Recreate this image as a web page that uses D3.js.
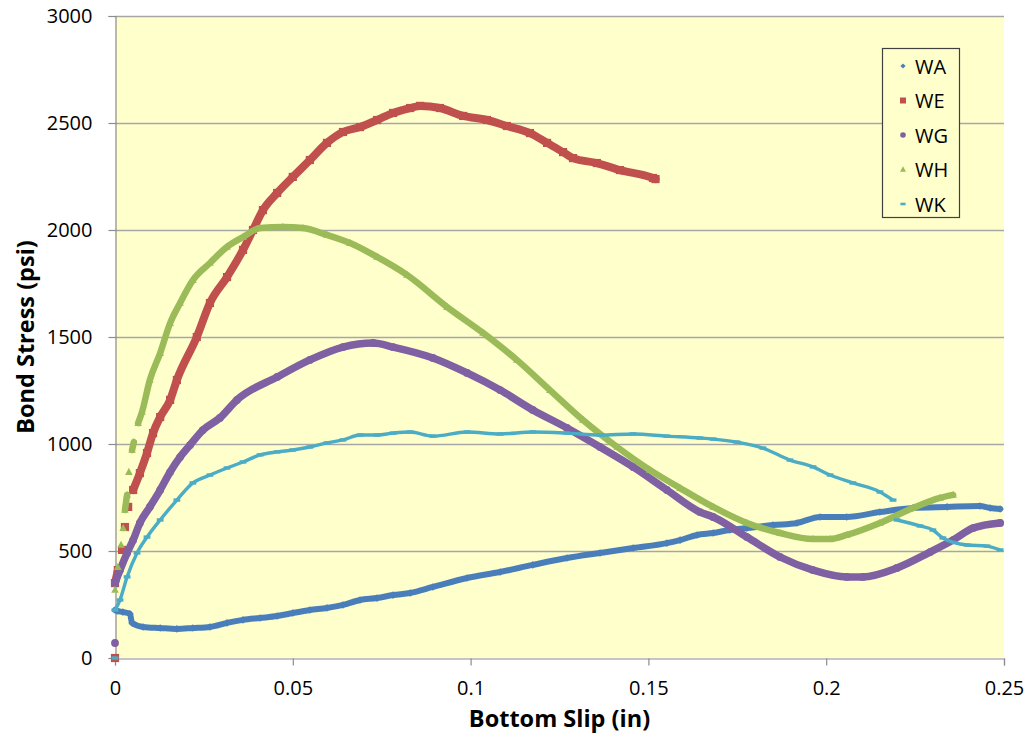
<!DOCTYPE html>
<html>
<head>
<meta charset="utf-8">
<script src="https://cdn.jsdelivr.net/npm/d3@7"></script>
<style>
  html, body { margin: 0; padding: 0; background: #ffffff; }
  svg { display: block; }
  text { font-family: "Open Sans", "Liberation Sans", sans-serif; fill: #000; }
</style>
</head>
<body>
<svg id="chart" width="1028" height="744"></svg>
<script>
// Bond stress (psi) against bottom slip (in) for five specimens
const seriesNames = ["WA", "WE", "WG", "WH", "WK"];
const xTicks = [0, 0.05, 0.1, 0.15, 0.2, 0.25];
const xTickLabels = ["0", "0.05", "0.1", "0.15", "0.2", "0.25"];
const yTicks = [0, 500, 1000, 1500, 2000, 2500, 3000];
const yTickLabels = ["0", "500", "1000", "1500", "2000", "2500", "3000"];

const WA = [
  [0, 224], [0.0006, 220], [0.0022, 215], [0.0042, 206], [0.0048, 164], [0.0079, 145],
  [0.0127, 140], [0.0174, 136], [0.0219, 140], [0.0267, 145], [0.0315, 164], [0.036, 178],
  [0.0408, 187], [0.0456, 196], [0.05, 210], [0.0548, 224], [0.0596, 234], [0.0641, 248],
  [0.0689, 271], [0.0737, 280], [0.0782, 294], [0.083, 304], [0.0894, 332], [0.099, 374],
  [0.1083, 402], [0.1175, 435], [0.1271, 467], [0.1364, 491], [0.1457, 514], [0.1552, 537],
  [0.1589, 551], [0.1637, 575], [0.1682, 584], [0.1729, 598], [0.1777, 607], [0.185, 621],
  [0.1918, 631], [0.1983, 659], [0.2058, 659], [0.2151, 682], [0.2244, 701], [0.234, 706],
  [0.2432, 710], [0.2461, 701], [0.2489, 696]
];

const WE = [
  [0, 0], [0, 350], [0.0008, 411], [0.002, 505], [0.0028, 612], [0.0037, 706], [0.0051, 785],
  [0.007, 864], [0.009, 958], [0.0107, 1051], [0.0127, 1126], [0.0155, 1206], [0.0174, 1299],
  [0.023, 1500], [0.0267, 1659], [0.0315, 1780], [0.036, 1907], [0.0388, 2000], [0.0416, 2093],
  [0.0456, 2173], [0.05, 2248], [0.0548, 2327], [0.0596, 2407], [0.0641, 2458], [0.0689, 2481],
  [0.0737, 2514], [0.0782, 2547], [0.083, 2570], [0.0858, 2580], [0.0914, 2570], [0.0979, 2533],
  [0.1046, 2514], [0.1102, 2486], [0.1167, 2453], [0.1215, 2407], [0.126, 2364], [0.1288, 2336],
  [0.1355, 2313], [0.142, 2280], [0.1513, 2243], [0.152, 2238]
];

const WG = [
  [0, 70], [0, 350], [0.0014, 411], [0.0034, 491], [0.0051, 551], [0.007, 631], [0.0098, 706],
  [0.0127, 785], [0.0155, 869], [0.0183, 939], [0.0211, 995], [0.0247, 1065], [0.0295, 1122],
  [0.0343, 1206], [0.0456, 1313], [0.0548, 1393], [0.0641, 1453], [0.0726, 1472], [0.0782, 1453],
  [0.0894, 1402], [0.099, 1332], [0.1083, 1252], [0.1175, 1159], [0.1271, 1075], [0.1364, 986],
  [0.1457, 893], [0.1552, 785], [0.1645, 682], [0.1682, 659], [0.1777, 565], [0.187, 472],
  [0.1963, 411], [0.2058, 379], [0.2103, 379], [0.2199, 421], [0.2292, 495], [0.2357, 551],
  [0.2413, 607], [0.2489, 631]
];

const WH = [
  [0, 318], [0.0008, 425], [0.0017, 528], [0.0023, 607], [0.0028, 692], [0.0034, 762],
  [0.0039, 869], [0.0048, 972], [0.0053, 1009], [0.0065, 1098], [0.0076, 1150], [0.0098, 1299],
  [0.0127, 1425], [0.0155, 1565], [0.0183, 1659], [0.0219, 1766], [0.0267, 1846], [0.0315, 1921],
  [0.036, 1967], [0.0408, 2009], [0.0472, 2014], [0.0529, 2009], [0.0596, 1977], [0.0661, 1939],
  [0.0737, 1874], [0.0821, 1790], [0.0934, 1640], [0.1035, 1519], [0.113, 1393], [0.1223, 1252],
  [0.1316, 1112], [0.1412, 986], [0.1504, 879], [0.1589, 794], [0.1682, 706], [0.1777, 631],
  [0.187, 584], [0.1963, 556], [0.2011, 556], [0.2058, 575], [0.2151, 631], [0.2244, 701],
  [0.232, 748], [0.2357, 762]
];

const WK = [
  [0, 0], [0, 224], [0.0014, 271], [0.0034, 379], [0.0062, 491], [0.009, 565], [0.0127, 645],
  [0.0174, 738], [0.0219, 818], [0.0267, 855], [0.0315, 888], [0.036, 916], [0.0408, 949],
  [0.0456, 963], [0.05, 972], [0.0548, 986], [0.0596, 1005], [0.0641, 1019], [0.0689, 1042],
  [0.0737, 1042], [0.0782, 1051], [0.083, 1056], [0.0894, 1037], [0.099, 1056], [0.1083, 1047],
  [0.1175, 1056], [0.1271, 1051], [0.1364, 1042], [0.1457, 1047], [0.1552, 1037], [0.1645, 1028],
  [0.1682, 1023], [0.1749, 1009], [0.1822, 981], [0.1898, 925], [0.1963, 893], [0.2011, 855],
  [0.2075, 818], [0.2151, 776], [0.2188, 738], [0.2199, 645], [0.2264, 617], [0.23, 598],
  [0.2328, 561], [0.2396, 528], [0.2452, 523], [0.2489, 505]
];

const seriesData = [WA, WE, WG, WH, WK];
const seriesColors = ["#4a7ebb", "#c0504d", "#7f60a2", "#9bbb59", "#4bacc6"];
const markerTypes = ["diamond", "square", "circle", "triangle", "dash"];

const svg = d3.select("#chart");
const plot = { left: 115, top: 16, right: 1004, bottom: 658 };

const x = d3.scaleLinear().domain([0, 0.25]).range([plot.left, plot.right]);
const y = d3.scaleLinear().domain([0, 3000]).range([plot.bottom, plot.top]);

// plot area fill
svg.append("rect")
  .attr("x", plot.left).attr("y", plot.top)
  .attr("width", plot.right - plot.left).attr("height", plot.bottom - plot.top)
  .attr("fill", "#ffffcc");

// horizontal gridlines
svg.append("g")
  .selectAll("line")
  .data(yTicks.filter(d => d > 0))
  .join("line")
  .attr("x1", plot.left).attr("x2", plot.right)
  .attr("y1", d => Math.round(y(d)) + 0.5).attr("y2", d => Math.round(y(d)) + 0.5)
  .attr("stroke", "#a6a6a6").attr("stroke-width", 1.3);

// axes
const tickFont = "'Open Sans', 'Liberation Sans', sans-serif";
const yAxis = d3.axisLeft(y).tickValues(yTicks).tickSize(7).tickPadding(16)
  .tickFormat((d, i) => yTickLabels[i]);
const gy = svg.append("g").attr("transform", `translate(${plot.left + 0.5},0)`).call(yAxis);
gy.select(".domain").attr("stroke", "#8c8c8c").attr("stroke-width", 1.2);
gy.selectAll(".tick line").attr("stroke", "#8c8c8c").attr("stroke-width", 1.2);
gy.selectAll(".tick text").attr("font-size", 20).attr("font-family", tickFont).attr("fill", "#000");

const xAxis = d3.axisBottom(x).tickValues(xTicks).tickSize(7).tickPadding(15)
  .tickFormat((d, i) => xTickLabels[i]);
const gx = svg.append("g").attr("transform", `translate(0,${plot.bottom + 0.5})`).call(xAxis);
gx.select(".domain").attr("stroke", "#8c8c8c").attr("stroke-width", 1.2);
gx.selectAll(".tick line").attr("stroke", "#8c8c8c").attr("stroke-width", 1.2);
gx.selectAll(".tick text").attr("font-size", 20).attr("font-family", tickFont).attr("fill", "#000");

// axis titles
svg.append("text")
  .attr("x", (plot.left + plot.right) / 2).attr("y", 727)
  .attr("text-anchor", "middle")
  .attr("font-size", 23.5).attr("font-weight", "bold")
  .text("Bottom Slip (in)");

svg.append("text")
  .attr("transform", `translate(34,${(plot.top + plot.bottom) / 2}) rotate(-90)`)
  .attr("text-anchor", "middle")
  .attr("font-size", 23.5).attr("font-weight", "bold")
  .text("Bond Stress (psi)");

// marker shapes
function markerPath(type, s) {
  switch (type) {
    case "diamond": return `M0,${-s}L${s},0L0,${s}L${-s},0Z`;
    case "square": return `M${-s},${-s}H${s}V${s}H${-s}Z`;
    case "circle": return d3.symbol(d3.symbolCircle, Math.PI * s * s)();
    case "triangle": return `M0,${-s * 1.1}L${s},${s * 0.75}L${-s},${s * 0.75}Z`;
    case "dash": return `M${-s},${-s * 0.5}H${s}V${s * 0.5}H${-s}Z`;
  }
}
const markerSize = { diamond: 3.8, square: 4.1, circle: 3.9, triangle: 3.8, dash: 3.4 };
const bandWidth = { diamond: 6, square: 8, circle: 7.5, triangle: 6.5, dash: 3.4 };

// split a series into runs of closely spaced points
function runs(data) {
  const out = [];
  let cur = [];
  data.forEach((d, i) => {
    if (i > 0) {
      const p = data[i - 1];
      const dx = Math.abs(x(d[0]) - x(p[0]));
      const dy = Math.abs(y(d[1]) - y(p[1]));
      if (dx < 6 && dy > 15) { out.push(cur); cur = []; }
    }
    cur.push(d);
  });
  out.push(cur);
  return out;
}

const bandLine = d3.line().x(d => x(d[0])).y(d => y(d[1])).curve(d3.curveMonotoneX);

svg.append("clipPath").attr("id", "plotclip").append("rect")
  .attr("x", plot.left - 6).attr("y", plot.top).attr("width", plot.right - plot.left + 6)
  .attr("height", plot.bottom - plot.top + 6);

const seriesG = svg.append("g").attr("clip-path", "url(#plotclip)");

seriesData.forEach((data, si) => {
  const type = markerTypes[si];
  const color = seriesColors[si];
  const g = seriesG.append("g");
  runs(data).forEach(run => {
    if (run.length > 1) {
      g.append("path")
        .attr("d", bandLine(run))
        .attr("fill", "none")
        .attr("stroke", color)
        .attr("stroke-width", bandWidth[type])
        .attr("stroke-linejoin", "round")
        .attr("stroke-linecap", type === "dash" ? "butt" : "round");
    }
  });
  g.selectAll("path.mk")
    .data(data)
    .join("path")
    .attr("class", "mk")
    .attr("transform", d => `translate(${x(d[0])},${y(d[1])})`)
    .attr("d", markerPath(type, markerSize[type]))
    .attr("fill", color);
});

// legend
const legend = svg.append("g");
legend.append("rect")
  .attr("x", 882.5).attr("y", 48.5).attr("width", 77).attr("height", 169)
  .attr("fill", "#ffffcc").attr("stroke", "#404040").attr("stroke-width", 1.2);
const legendMarkerSize = { diamond: 2.6, square: 3, circle: 2.8, triangle: 3, dash: 2.6 };
seriesNames.forEach((name, i) => {
  const cy = 66 + i * 34.5;
  legend.append("path")
    .attr("transform", `translate(903,${cy})`)
    .attr("d", markerPath(markerTypes[i], legendMarkerSize[markerTypes[i]]))
    .attr("fill", seriesColors[i]);
  legend.append("text")
    .attr("x", 915).attr("y", cy + 7.5)
    .attr("font-size", 20)
    .text(name);
});
</script>
</body>
</html>
